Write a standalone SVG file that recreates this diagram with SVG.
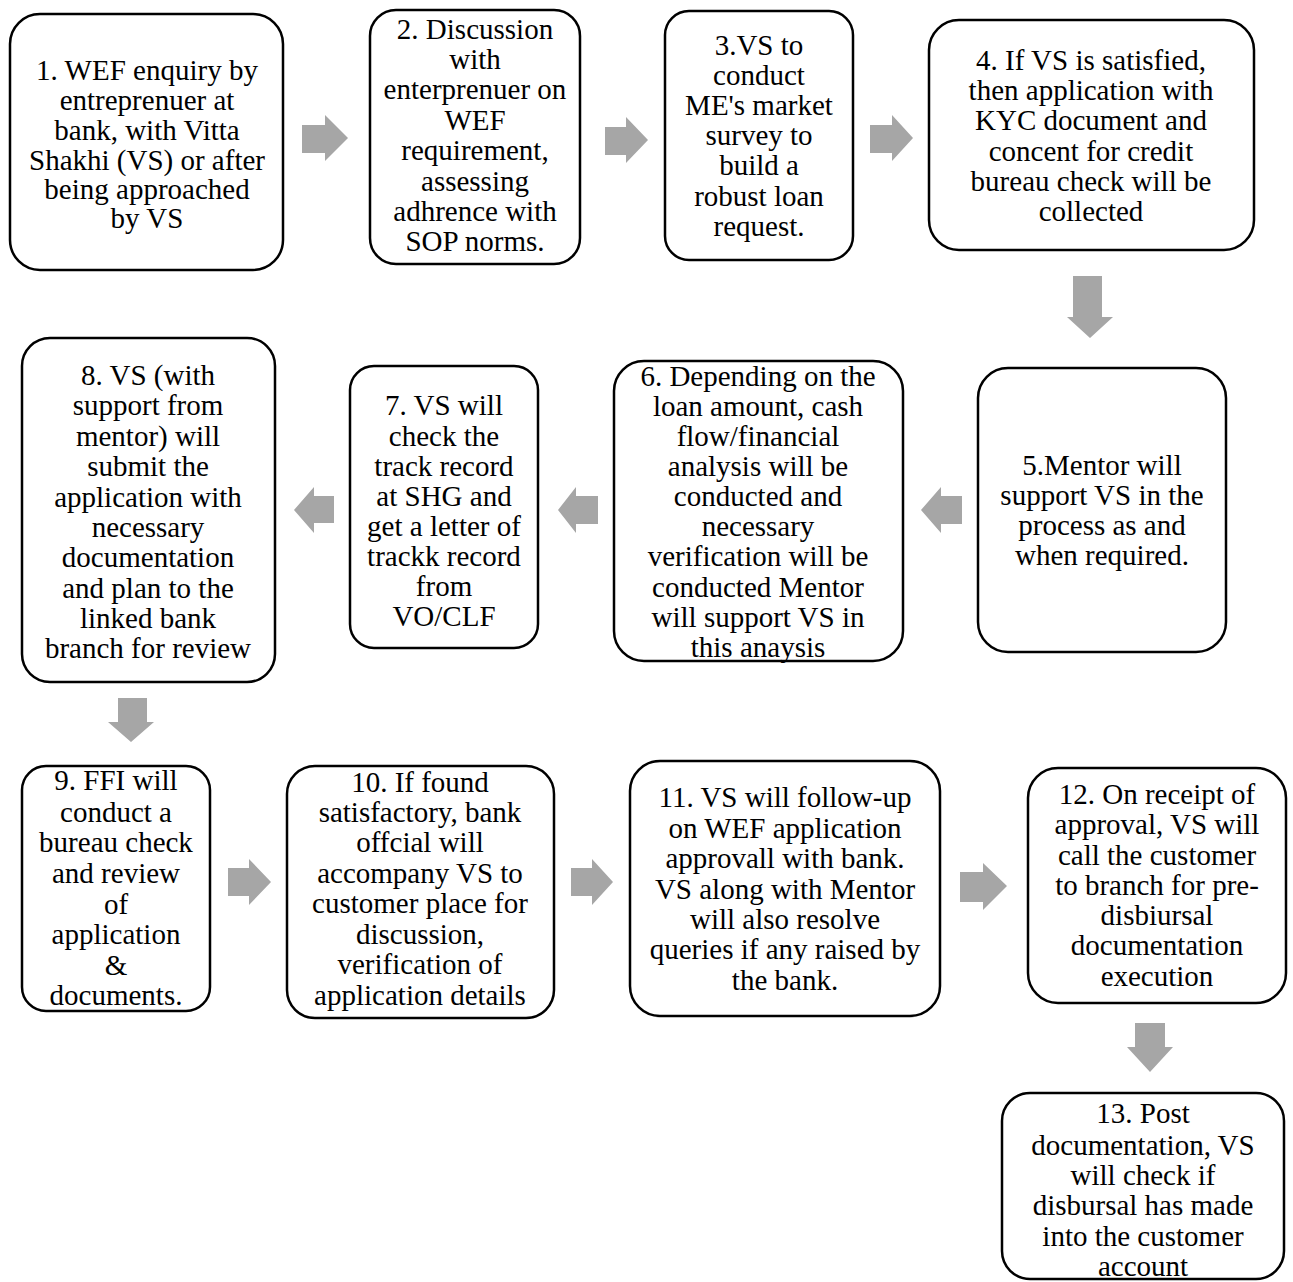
<svg xmlns="http://www.w3.org/2000/svg" width="1293" height="1282" viewBox="0 0 1293 1282">
<style>
.box{fill:#fff;stroke:#000;stroke-width:2.5}
.t{font-family:"Liberation Serif","Times New Roman",serif;font-size:29px;fill:#000;text-anchor:middle}
.arr{fill:#a6a6a6}
</style>
<rect width="1293" height="1282" fill="#fff"/>
<g id="connectors">
<polygon class="arr" points="302,125 325,125 325,115 348,138 325,161 325,153 302,153"/>
<polygon class="arr" points="605,127 626,127 626,117 648,140 626,163 626,155 605,155"/>
<polygon class="arr" points="870,125 892,125 892,115 913,138 892,161 892,153 870,153"/>
<polygon class="arr" points="1073,276 1102,276 1102,317 1113,317 1090,338 1067,317 1073,317"/>
<polygon class="arr" points="962,496 941,496 941,487 921,510 941,533 941,524 962,524"/>
<polygon class="arr" points="598,496 576,496 576,487 558,510 576,533 576,524 598,524"/>
<polygon class="arr" points="334,496 314,496 314,487 294,510 314,533 314,523 334,523"/>
<polygon class="arr" points="118,698 147,698 147,722 154,722 131,742 108,722 118,722"/>
<polygon class="arr" points="228,868 249,868 249,859 271,882 249,905 249,896 228,896"/>
<polygon class="arr" points="571,868 592,868 592,859 613,882 592,905 592,896 571,896"/>
<polygon class="arr" points="960,872 983,872 983,863 1007,886 983,910 983,902 960,902"/>
<polygon class="arr" points="1135,1023 1165,1023 1165,1047 1173,1047 1150,1072 1127,1047 1135,1047"/>
</g>
<g id="n1"><rect class="box" x="10" y="14" width="273" height="256" rx="30"/>
<text class="t"><tspan x="147" y="80">1. WEF enquiry by</tspan><tspan x="147" y="110">entreprenuer at</tspan><tspan x="147" y="140">bank, with Vitta</tspan><tspan x="147" y="170">Shakhi (VS) or after</tspan><tspan x="147" y="199">being approached</tspan><tspan x="147" y="228">by VS</tspan></text></g>
<g id="n2"><rect class="box" x="370" y="10" width="210" height="254" rx="26"/>
<text class="t"><tspan x="475" y="39">2. Discussion</tspan><tspan x="475" y="69">with</tspan><tspan x="475" y="99">enterprenuer on</tspan><tspan x="475" y="130">WEF</tspan><tspan x="475" y="160">requirement,</tspan><tspan x="475" y="191">assessing</tspan><tspan x="475" y="221">adhrence with</tspan><tspan x="475" y="251">SOP norms.</tspan></text></g>
<g id="n3"><rect class="box" x="665" y="11" width="188" height="249" rx="24"/>
<text class="t"><tspan x="759" y="55">3.VS to</tspan><tspan x="759" y="85">conduct</tspan><tspan x="759" y="115">ME's market</tspan><tspan x="759" y="145">survey to</tspan><tspan x="759" y="175">build a</tspan><tspan x="759" y="206">robust loan</tspan><tspan x="759" y="236">request.</tspan></text></g>
<g id="n4"><rect class="box" x="929" y="20" width="325" height="230" rx="30"/>
<text class="t"><tspan x="1091" y="70">4. If VS is satisfied,</tspan><tspan x="1091" y="100">then application with</tspan><tspan x="1091" y="130">KYC document and</tspan><tspan x="1091" y="161">concent for credit</tspan><tspan x="1091" y="191">bureau check will be</tspan><tspan x="1091" y="221">collected</tspan></text></g>
<g id="n5"><rect class="box" x="978" y="368" width="248" height="284" rx="30"/>
<text class="t"><tspan x="1102" y="475">5.Mentor will</tspan><tspan x="1102" y="505">support VS in the</tspan><tspan x="1102" y="535">process as and</tspan><tspan x="1102" y="565">when required.</tspan></text></g>
<g id="n6"><rect class="box" x="614" y="361" width="289" height="300" rx="30"/>
<text class="t"><tspan x="758" y="386">6. Depending on the</tspan><tspan x="758" y="416">loan amount, cash</tspan><tspan x="758" y="446">flow/financial</tspan><tspan x="758" y="476">analysis will be</tspan><tspan x="758" y="506">conducted and</tspan><tspan x="758" y="536">necessary</tspan><tspan x="758" y="566">verification will be</tspan><tspan x="758" y="597">conducted Mentor</tspan><tspan x="758" y="627">will support VS in</tspan><tspan x="758" y="657">this anaysis</tspan></text></g>
<g id="n7"><rect class="box" x="350" y="366" width="188" height="282" rx="24"/>
<text class="t"><tspan x="444" y="415">7. VS will</tspan><tspan x="444" y="446">check the</tspan><tspan x="444" y="476">track record</tspan><tspan x="444" y="506">at SHG and</tspan><tspan x="444" y="536">get a letter of</tspan><tspan x="444" y="566">trackk record</tspan><tspan x="444" y="596">from</tspan><tspan x="444" y="626">VO/CLF</tspan></text></g>
<g id="n8"><rect class="box" x="22" y="338" width="253" height="344" rx="28"/>
<text class="t"><tspan x="148" y="385">8. VS (with</tspan><tspan x="148" y="415">support from</tspan><tspan x="148" y="446">mentor) will</tspan><tspan x="148" y="476">submit the</tspan><tspan x="148" y="507">application with</tspan><tspan x="148" y="537">necessary</tspan><tspan x="148" y="567">documentation</tspan><tspan x="148" y="598">and plan to the</tspan><tspan x="148" y="628">linked bank</tspan><tspan x="148" y="658">branch for review</tspan></text></g>
<g id="n9"><rect class="box" x="22" y="766" width="188" height="245" rx="24"/>
<text class="t"><tspan x="116" y="790">9. FFI will</tspan><tspan x="116" y="822">conduct a</tspan><tspan x="116" y="852">bureau check</tspan><tspan x="116" y="883">and review</tspan><tspan x="116" y="914">of</tspan><tspan x="116" y="944">application</tspan><tspan x="116" y="975">&amp;</tspan><tspan x="116" y="1005">documents.</tspan></text></g>
<g id="n10"><rect class="box" x="287" y="766" width="267" height="252" rx="28"/>
<text class="t"><tspan x="420" y="792">10. If found</tspan><tspan x="420" y="822">satisfactory, bank</tspan><tspan x="420" y="852">offcial will</tspan><tspan x="420" y="883">accompany VS to</tspan><tspan x="420" y="913">customer place for</tspan><tspan x="420" y="944">discussion,</tspan><tspan x="420" y="974">verification of</tspan><tspan x="420" y="1005">application details</tspan></text></g>
<g id="n11"><rect class="box" x="630" y="761" width="310" height="255" rx="30"/>
<text class="t"><tspan x="785" y="807">11. VS will follow-up</tspan><tspan x="785" y="838">on WEF application</tspan><tspan x="785" y="868">approvall with bank.</tspan><tspan x="785" y="899">VS along with Mentor</tspan><tspan x="785" y="929">will also resolve</tspan><tspan x="785" y="959">queries if any raised by</tspan><tspan x="785" y="990">the bank.</tspan></text></g>
<g id="n12"><rect class="box" x="1028" y="768" width="258" height="235" rx="30"/>
<text class="t"><tspan x="1157" y="804">12. On receipt of</tspan><tspan x="1157" y="834">approval, VS will</tspan><tspan x="1157" y="865">call the customer</tspan><tspan x="1157" y="895">to branch for pre-</tspan><tspan x="1157" y="925">disbiursal</tspan><tspan x="1157" y="955">documentation</tspan><tspan x="1157" y="986">execution</tspan></text></g>
<g id="n13"><rect class="box" x="1002" y="1093" width="282" height="186" rx="28"/>
<text class="t"><tspan x="1143" y="1123">13. Post</tspan><tspan x="1143" y="1155">documentation, VS</tspan><tspan x="1143" y="1185">will check if</tspan><tspan x="1143" y="1215">disbursal has made</tspan><tspan x="1143" y="1246">into the customer</tspan><tspan x="1143" y="1276">account</tspan></text></g>
</svg>
